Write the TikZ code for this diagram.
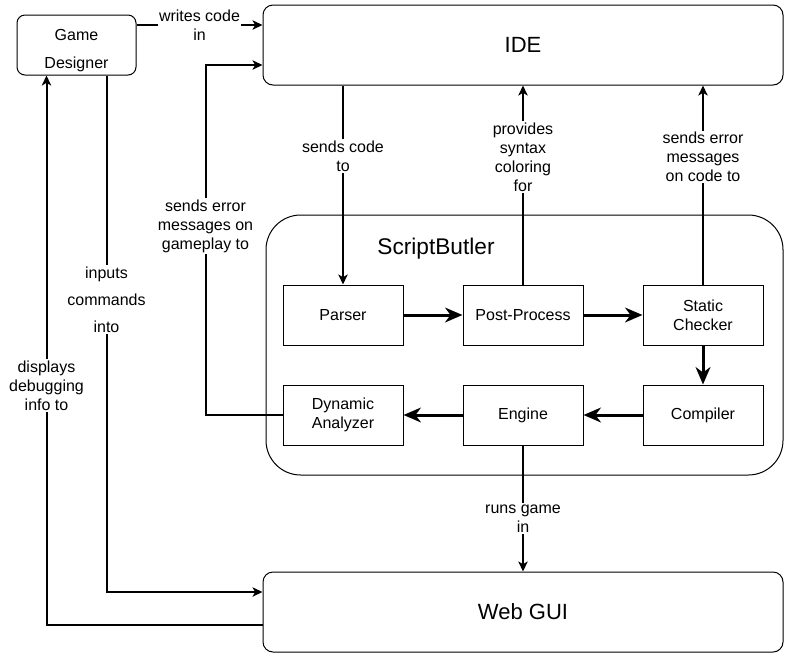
\documentclass[tikz,border=0pt]{standalone}
\usepackage{fontspec}
\setmainfont{Liberation Sans}
\usetikzlibrary{arrows.meta}

\begin{document}
\begin{tikzpicture}[x=0.75pt, y=-0.75pt,
    box/.style={draw, line width=0.75pt, fill=white, inner sep=0pt, align=center,
        font=\fontsize{12}{14.25}\selectfont},
    unit/.style={box, minimum width=90pt, minimum height=45pt},
    bigbox/.style={box, rounded corners=7.5pt, minimum width=390pt, minimum height=60pt,
        font=\fontsize{16.5}{20}\selectfont},
    conn/.style={line width=1.5pt, -{Stealth[length=7.5pt, width=7pt, inset=2pt]}},
    flow/.style={line width=2.25pt, -{Stealth[length=13pt, width=11pt, inset=4pt]}},
    lbl/.style={fill=white, inner sep=1pt, align=center, font=\fontsize{12}{14.25}\selectfont}]
    \useasboundingbox (0,0) rectangle (789,658);

    % Outer blocks
    \node[box, rounded corners=6pt, minimum width=89.25pt, minimum height=45pt,
        font=\fontsize{12}{21}\selectfont] (gd) at (76.5,45) {\rule{0pt}{16.5pt}Game\\Designer};
    \node[bigbox] (ide) at (523,45) {IDE};
    \node[bigbox] (web) at (523,612) {Web GUI};

    % ScriptButler container
    \node[box, rounded corners=26pt, minimum width=387.75pt, minimum height=195pt] (sb) at (524.5,345) {};
    \node[font=\fontsize{17}{20}\selectfont] (sblbl) at (436,249) {ScriptButler};

    % Pipeline stages
    \node[unit] (parser) at (343,315) {Parser};
    \node[unit] (post) at (523,315) {Post-Process};
    \node[unit] (static) at (703,315) {Static\\Checker};
    \node[unit] (dyn) at (343,415) {Dynamic\\Analyzer};
    \node[unit] (engine) at (523,415) {Engine};
    \node[unit] (comp) at (703,415) {Compiler};

    % Pipeline flow
    \draw[flow] (parser) -- (post);
    \draw[flow] (post) -- (static);
    \draw[flow] (static) -- (comp);
    \draw[flow] (comp) -- (engine);
    \draw[flow] (engine) -- (dyn);

    % Links to the IDE
    \draw[conn] ([yshift=15pt]gd.east) -- node[lbl] {writes code\\in} ([yshift=15pt]ide.west);
    \draw[conn] (parser.north |- ide.south) -- node[lbl, pos=0.355] {sends code\\to} (parser.north);
    \draw[conn] (post.north) -- node[lbl, pos=0.64] {provides\\syntax\\coloring\\for} (ide.south);
    \draw[conn] (static.north) -- node[lbl, pos=0.64] {sends error\\messages\\on code to} (static.north |- ide.south);
    \draw[conn] (dyn.west) -- ++(-77,0) |- node[lbl, pos=0.27] {sends error\\messages on\\gameplay to} ([yshift=-15pt]ide.west);

    % Links to the Web GUI
    \draw[conn] (engine.south) -- node[lbl, pos=0.58] {runs game\\in} (web.north);
    \draw[conn] ([xshift=22.5pt]gd.south) |- node[lbl, pos=0.217, font=\fontsize{12}{20.25}\selectfont] {inputs\\commands\\into} ([yshift=15pt]web.west);
    \draw[conn] ([yshift=-9.75pt]web.west) -| node[lbl, pos=0.718] {displays\\debugging\\info to} ([xshift=-22.5pt]gd.south);
\end{tikzpicture}
\end{document}
